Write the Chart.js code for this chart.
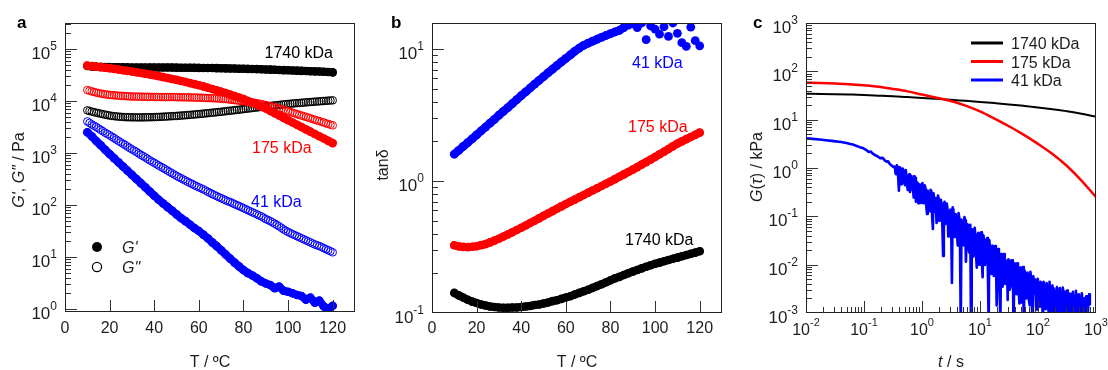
<!DOCTYPE html>
<html>
<head>
<meta charset="utf-8">
<script src="https://cdn.jsdelivr.net/npm/chart.js@4.4.0/dist/chart.umd.min.js"></script>
<style>
html,body{margin:0;padding:0;background:#fff;}
#wrap{position:relative;width:1108px;height:370px;overflow:hidden;}
.panel{position:absolute;top:0;height:370px;}
</style>
</head>
<body>
<div id="wrap">
  <div class="panel" style="left:0;width:369px"><canvas id="ca" width="369" height="370"></canvas></div>
  <div class="panel" style="left:369px;width:369px"><canvas id="cb" width="369" height="370"></canvas></div>
  <div class="panel" style="left:738px;width:370px"><canvas id="cc" width="370" height="370"></canvas></div>
</div>
<script>
// temperature sweeps (°C)
const temps=[10,12,14,16,18,20,22,24,26,28,30,32,34,36,38,40,42,44,46,48,50,52,54,56,58,60,62,64,66,68,70,72,74,76,78,80,82,84,86,88,90,92,94,96,98,100,102,104,106,108,110,112,114,116,118,120];
const temps1=[10,11,12,13,14,15,16,17,18,19,20,21,22,23,24,25,26,27,28,29,30,31,32,33,34,35,36,37,38,39,40,41,42,43,44,45,46,47,48,49,50,51,52,53,54,55,56,57,58,59,60,61,62,63,64,65,66,67,68,69,70,71,72,73,74,75,76,77,78,79,80,81,82,83,84,85,86,87,88,89,90,91,92,93,94,95,96,97,98,99,100,101,102,103,104,105,106,107,108,109,110,111,112,113,114,115,116,117,118,119,120];

// panel a: G' (filled, on temps) and G'' (open, on temps1), Pa
const gp1740=[47000,46200,45600,45200,44900,44700,44500,44400,44300,44200,44000,44000,44000,44000,44000,44000,44000,44000,44000,43900,43800,43700,43600,43500,43400,43300,43200,43100,43000,42800,42600,42400,42200,42000,41800,41600,41400,41200,41000,40700,40400,40100,39800,39500,39200,38900,38600,38300,38000,37700,37400,37100,36800,36400,36000,35500];
const gp175=[47900,46800,45700,44700,43700,42700,41500,40300,39100,37900,36800,35600,34500,33400,32400,31300,30100,28800,27700,26500,25500,24300,23200,22100,21100,20100,19100,18000,17000,16000,15100,14200,13300,12400,11600,10900,10000,9230,8490,7800,7160,6460,5820,5250,4730,4270,3850,3480,3150,2840,2570,2320,2100,1900,1710,1550];
const gp41=[2510,2090,1700,1410,1150,955,794,661,550,457,380,316,263,219,182,151,126,107,91,78,66,56,49,42,36,31.6,26.9,22.9,19.1,16.2,13.5,11.2,9.3,7.8,6.6,5.6,4.9,4.4,3.9,3.4,3.1,2.9,2.5,2.7,2.24,2.14,2.0,1.86,1.78,1.51,1.66,1.32,1.45,1.12,1.0,1.15];
const gpp1740=[6600,6420,6250,6100,5950,5820,5700,5570,5450,5350,5250,5170,5100,5050,5000,4960,4920,4890,4870,4860,4850,4845,4840,4840,4840,4845,4850,4860,4870,4885,4900,4920,4940,4965,4990,5015,5040,5070,5100,5130,5160,5200,5240,5280,5320,5365,5410,5455,5500,5550,5600,5655,5710,5770,5830,5890,5950,6010,6070,6135,6200,6275,6350,6425,6500,6575,6650,6725,6800,6890,6980,7065,7150,7235,7320,7410,7500,7590,7680,7765,7850,7940,8030,8125,8220,8310,8400,8500,8600,8690,8780,8865,8950,9025,9100,9175,9250,9325,9400,9475,9550,9625,9700,9775,9850,9925,10000,10075,10150,10225,10300];
const gpp175=[16200,15700,15300,14900,14500,14200,13900,13650,13400,13250,13100,12970,12850,12750,12650,12570,12500,12420,12350,12270,12200,12170,12150,12120,12100,12070,12050,12020,12000,11970,11950,11920,11900,11900,11900,11900,11900,11900,11900,11870,11850,11820,11800,11770,11750,11720,11700,11670,11650,11620,11600,11550,11500,11450,11400,11350,11300,11250,11200,11150,11100,11000,10900,10780,10650,10520,10400,10270,10150,10020,9900,9780,9650,9500,9350,9200,9050,8870,8700,8520,8350,8150,7950,7750,7550,7350,7150,6950,6750,6550,6350,6150,5950,5770,5600,5420,5250,5100,4950,4800,4650,4500,4350,4220,4100,3970,3850,3720,3600,3500,3400];
const gpp41=[4050,3790,3550,3350,3160,2970,2790,2620,2450,2310,2190,2060,1930,1810,1700,1600,1510,1420,1330,1250,1175,1110,1047,983,923,871,822,771,724,684,646,609,575,543,513,484,457,431,407,384,363,344,327,310,295,280,266,253,240,229,219,209,200,190,180,171,162,155,148,141,135,129,123,118,114,109,104,99.7,95.5,91.2,87.1,83.2,79.4,75.8,72.4,69.2,66.1,63.1,60.3,57,53.7,51.3,49.0,46.3,43.7,41.2,38.9,36.3,33.9,32,30.2,28.8,27.5,26.3,25.1,24,22.9,21.9,20.9,20,19.1,18.2,17.4,16.8,16.2,15.5,14.8,14.1,13.5,12.9,12.3];

// panel b: tan delta (on temps)
const tan1740=[0.142,0.136,0.131,0.126,0.122,0.119,0.116,0.114,0.112,0.111,0.110,0.1095,0.1095,0.110,0.110,0.111,0.112,0.113,0.115,0.116,0.118,0.120,0.123,0.125,0.128,0.131,0.134,0.138,0.142,0.146,0.150,0.155,0.160,0.165,0.171,0.177,0.183,0.188,0.194,0.200,0.206,0.212,0.218,0.224,0.230,0.236,0.241,0.247,0.252,0.258,0.263,0.269,0.275,0.281,0.287,0.294];
const tan175=[0.326,0.320,0.317,0.316,0.318,0.321,0.327,0.333,0.343,0.354,0.366,0.380,0.394,0.409,0.426,0.443,0.461,0.481,0.501,0.522,0.545,0.568,0.592,0.617,0.643,0.670,0.697,0.724,0.755,0.785,0.817,0.849,0.883,0.918,0.955,0.993,1.035,1.079,1.125,1.172,1.222,1.276,1.334,1.393,1.455,1.524,1.596,1.671,1.750,1.837,1.923,2.00,2.08,2.16,2.24,2.33];
const tan41=[1.60,1.71,1.83,1.96,2.09,2.24,2.40,2.57,2.75,2.94,3.16,3.38,3.61,3.87,4.14,4.44,4.74,5.08,5.43,5.81,6.19,6.61,7.05,7.52,8.00,8.51,9.04,9.65,10.2,10.7,11.1,11.5,11.9,12.3,12.7,13.1,13.5,13.9,14.6,15.2,15.6,14.6,15.8,11.8,15.0,14.2,13.0,14.8,12.5,15.8,13.2,11.2,10.5,14.7,11.6,10.6];

// panel c: relaxation modulus G(t), kPa
const tLine=[0.01,0.0178,0.0316,0.0562,0.1,0.178,0.316,0.562,1,1.78,3.16,5.62,10,17.8,31.6,56.2,100,178,316,562,1000];
const g1740=[34.3,34.1,33.7,33.1,32.4,31.4,30.4,29.3,28.2,27.0,25.8,24.5,23.3,22.0,20.7,19.3,17.9,16.4,14.9,13.2,11.5];
const g175=[58.2,57.5,56.2,54.3,51.3,47.9,43.2,38.5,33.1,28.5,24.3,19.5,14.8,10.5,7.3,4.9,3.16,1.95,1.10,0.55,0.25];
const tBlue=[0.01,0.013,0.017,0.022,0.03,0.04,0.05,0.058,0.065,0.075,0.085,0.098,0.11,0.12,0.13,0.14,0.155,0.17,0.19,0.21,0.23,0.245,0.26,0.28,0.3,0.32,
  0.34,0.36,0.38,0.40,0.43,0.45,0.48,0.51,0.54,0.57,0.60,0.64,0.68,0.72,0.76,0.81,0.86,0.91,0.96,1.02,
  1.08,1.15,1.22,1.29,1.37,1.45,1.54,1.63,1.73,1.83,1.94,2.06,2.18,2.31,2.45,2.6,2.75,2.92,3.1,3.28,
  3.48,3.69,3.91,4.14,4.39,4.66,4.94,5.23,5.55,5.88,6.23,6.6,7.0,7.4,7.9,8.3,8.8,9.4,9.9,10.5,
  11.1,11.8,12.5,13.3,14.1,14.9,15.8,16.8,17.8,18.8,20,21.2,22.4,23.8,25.2,26.7,28.3,30,31.8,33.7,
  35.7,37.9,40.1,42.5,45.1,47.8,50.7,53.7,56.9,60.3,63.9,67.8,71.8,76.1,80.7,85.6,90.7,96.1,102,108,
  114,121,129,136,145,153,163,172,183,194,205,218,231,244,259,275,291,309,327,347,
  367,389,413,438,464,492,521,553,586,621,658,698,740,784];
const g41=[4.1,4.0,3.9,3.75,3.6,3.45,3.3,3.15,3.05,2.85,2.7,2.55,2.35,2.15,2.2,2.0,1.85,1.75,1.6,1.62,1.42,1.35,1.38,1.2,1.12,1.05,
  1.07,0.74,1.05,0.34,0.95,0.63,0.87,0.44,0.66,0.35,0.74,0.37,0.59,0.245,0.63,0.35,0.186,0.46,0.263,0.49,
  0.204,0.38,0.112,0.295,0.174,0.33,0.055,0.204,0.24,0.089,0.234,0.087,0.162,0.0151,0.2,0.085,0.141,0.0417,0.138,0.0042,
  0.138,0.0457,0.095,0.0251,0.095,0.00045,0.066,0.0251,0.083,0.0316,0.066,0.0174,0.00036,0.0537,0.0178,0.0417,0.0087,0.0457,0.0195,0.0468,
  0.0055,0.0324,0.012,0.0355,0.00052,0.0195,0.00646,0.024,0.0079,0.0166,0.00437,0.0162,0.00048,0.0129,0.00427,0.0145,0.0049,0.00186,0.0112,0.00372,
  0.0089,0.00038,0.0091,0.00245,0.0066,0.00158,0.0076,0.00229,0.00044,0.0059,0.002,0.00537,0.00145,0.0055,0.00033,0.00251,0.0049,0.00117,0.00355,0.00135,
  0.00417,0.0004,0.00309,0.0012,0.00324,0.001,0.00174,0.00339,0.00032,0.00251,0.0011,0.00269,0.0003,0.00229,0.00112,0.00275,0.00085,0.00033,0.00204,0.001,
  0.00224,0.00078,0.00174,0.00038,0.0019,0.00093,0.00209,0.00046,0.00162,0.00089,0.00178,0.00044,0.00195,0.00151];
// further 41 kDa samples lying between the ones above
const tBlueMid=[0.35,0.37,0.39,0.415,0.44,0.465,0.495,0.525,0.555,0.585,
  0.62,0.66,0.70,0.74,0.785,0.835,0.885,0.935,0.99,1.05,
  1.115,1.185,1.255,1.33,1.41,1.495,1.585,1.68,1.78,1.885,
  2.0,2.12,2.245,2.38,2.525,2.675,2.835,3.01,3.19,3.38,
  3.585,3.8,4.025,4.265,4.525,4.8,5.085,5.39,5.715,6.055,
  6.415,6.8,7.2,7.65,8.1,8.55,9.1,9.65,10.2,10.8,
  11.45,12.15,12.9,13.7,14.5,15.35,16.3,17.3,18.3,19.4,
  20.6,21.8,23.1,24.5,25.95,27.5,29.15,30.9,32.75,34.7,
  36.8,39,41.3,43.8,46.45,49.25,52.2,55.3,58.6,62.1,
  65.85,69.8,73.95,78.4,83.15,88.15,93.4,99,105,111,
  117.5,125,132.5,140.5,149,158,167.5,177.5,188.5,199.5,
  211.5,224.5,237.5,251.5,267,283,300,318,337,357,
  378,401,425.5,451,478,506.5,537,569.5,603.5,639.5,
  678,719,762];
const g41Mid=[0.77,1.14,0.60,1.04,0.46,0.97,0.51,0.91,0.43,0.68,
  0.32,0.68,0.36,0.68,0.20,0.50,0.45,0.19,0.45,0.188,
  0.44,0.164,0.34,0.127,0.355,0.101,0.30,0.124,0.073,0.27,
  0.080,0.221,0.062,0.184,0.069,0.184,0.0385,0.127,0.0537,0.153,
  0.0376,0.111,0.0367,0.1175,0.0232,0.086,0.0324,0.0966,0.0115,0.0684,
  0.0202,0.0668,0.0442,0.0146,0.0582,0.016,0.0422,0.01,0.0427,0.01135,
  0.0403,0.0099,0.0292,0.0061,0.032,0.00944,0.0248,0.00582,0.0243,0.00143,
  0.0211,0.00556,0.0166,0.0035,0.0166,0.004,0.012,0.0129,0.00305,0.0123,
  0.0123,0.0105,0.00282,0.0107,0.00288,0.0087,0.00166,0.0089,0.0076,0.00204,
  0.0069,0.00186,0.0071,0.00151,0.00575,0.00495,0.00135,0.00513,0.00138,0.00442,
  0.00407,0.00442,0.00122,0.00417,0.00143,0.00442,0.00068,0.00372,0.0032,0.00099,
  0.00343,0.00094,0.00327,0.00114,0.00335,0.00077,0.00279,0.00292,0.0008,0.00251,
  0.00088,0.00275,0.00061,0.00288,0.00094,0.00245,0.00073,0.00257,0.00202,0.00071,
  0.00221,0.00069,0.00243];

const FF='"Liberation Sans", Arial, Helvetica, sans-serif';
const TXT='#1e1e1e';
const BLACK='#000000',RED='#ff0000',BLUE='#0000ff';

function pts(xs,ys){return xs.map((x,i)=>({x:x,y:ys[i]}));}
function isDecade(v){const l=Math.log10(v);return Math.abs(l-Math.round(l))<1e-6;}
function decadeTicks(s,lo,hi){
    const out=[];
    for(let e=lo;e<=hi;e++){
        for(let m=1;m<=9;m++){
            const v=m*Math.pow(10,e);
            if(v>=s.min*0.999&&v<=s.max*1.001) out.push({value:v});
        }
    }
    s.ticks=out;
}

// draws text made of [text, italic] pieces
function rich(ctx,segs,x,y,align,size,color,bold){
    const fonts=segs.map(s=>(s[1]?'italic ':'')+(bold?'bold ':'')+size+'px '+FF);
    let w=0;
    segs.forEach((s,i)=>{ctx.font=fonts[i];w+=ctx.measureText(s[0]).width;});
    let cx=align==='center'?x-w/2:(align==='right'?x-w:x);
    ctx.fillStyle=color;ctx.textAlign='left';ctx.textBaseline='alphabetic';
    segs.forEach((s,i)=>{ctx.font=fonts[i];ctx.fillText(s[0],cx,y);cx+=ctx.measureText(s[0]).width;});
}
function powLabel(ctx,e,x,y,align,size){
    ctx.font=size+'px '+FF;const bw=ctx.measureText('10').width;
    ctx.font=(size-5)+'px '+FF;const ew=ctx.measureText(String(e)).width;
    const x0=align==='right'?x-bw-ew:x-(bw+ew)/2;
    ctx.fillStyle=TXT;ctx.textAlign='left';ctx.textBaseline='alphabetic';
    ctx.font=size+'px '+FF;ctx.fillText('10',x0,y);
    ctx.font=(size-5)+'px '+FF;ctx.fillText(String(e),x0+bw,y-9);
}

function deco(cfg){
    return {
        id:'deco',
        afterDatasetsDraw(chart){
            const ctx=chart.ctx,a=chart.chartArea;
            const xs=chart.scales.x,ys=chart.scales.y;
            ctx.save();
            ctx.strokeStyle='#333';ctx.lineWidth=1;
            ctx.beginPath();
            ys.ticks.forEach(t=>{
                const p=Math.round(ys.getPixelForValue(t.value))+0.5;
                if(p<a.top||p>a.bottom) return;
                const len=(ys.type!=='logarithmic'||isDecade(t.value))?12:6;
                ctx.moveTo(a.left,p);ctx.lineTo(a.left+len,p);
            });
            xs.ticks.forEach(t=>{
                const p=Math.round(xs.getPixelForValue(t.value))+0.5;
                if(p<a.left||p>a.right) return;
                const len=(xs.type!=='logarithmic'||isDecade(t.value))?12:6;
                ctx.moveTo(p,a.bottom);ctx.lineTo(p,a.bottom-len);
            });
            ctx.stroke();
            ctx.strokeStyle='#222';
            ctx.strokeRect(a.left+0.5,a.top+0.5,a.right-a.left-1,a.bottom-a.top-1);

            if(ys.type==='logarithmic') ys.ticks.forEach(t=>{
                if(isDecade(t.value)) powLabel(ctx,Math.round(Math.log10(t.value)),a.left-8,ys.getPixelForValue(t.value)+10,'right',17);
            });
            if(xs.type==='logarithmic') xs.ticks.forEach(t=>{
                if(isDecade(t.value)) powLabel(ctx,Math.round(Math.log10(t.value)),xs.getPixelForValue(t.value),a.bottom+22,'center',16);
            });

            rich(ctx,[[cfg.letter,false]],cfg.letterX,28,'left',17,'#000',true);
            rich(ctx,cfg.xTitle,(a.left+a.right)/2,367,'center',16,TXT,false);
            ctx.save();
            ctx.translate(cfg.yTitleX,cfg.yTitleY);ctx.rotate(-Math.PI/2);
            rich(ctx,cfg.yTitle,0,0,'center',16,TXT,false);
            ctx.restore();
            (cfg.notes||[]).forEach(n=>rich(ctx,[[n.text,false]],n.x,n.y,n.align,16,n.color,false));
            if(cfg.markerKey){
                const k=cfg.markerKey;
                ctx.fillStyle='#000';ctx.beginPath();ctx.arc(k.x,k.y1,5,0,Math.PI*2);ctx.fill();
                ctx.strokeStyle='#000';ctx.lineWidth=1.2;ctx.beginPath();ctx.arc(k.x,k.y2,4.6,0,Math.PI*2);ctx.stroke();
                rich(ctx,[["G'",true]],k.tx,k.y1+6,'left',16,TXT,false);
                rich(ctx,[['G"',true]],k.tx,k.y2+6,'left',16,TXT,false);
            }
            if(cfg.lineKey){
                const k=cfg.lineKey;
                const ds=chart.data.datasets.filter(d=>d.keyRow!==undefined).sort((p,q)=>p.keyRow-q.keyRow);
                ds.forEach((d,i)=>{
                    const y=k.y+i*k.dy;
                    ctx.strokeStyle=d.borderColor;ctx.lineWidth=3;
                    ctx.beginPath();ctx.moveTo(k.x1,y);ctx.lineTo(k.x2,y);ctx.stroke();
                    rich(ctx,[[d.label,false]],k.tx,y+6,'left',16,TXT,false);
                });
            }
            ctx.restore();
        }
    };
}

// filled markers; a thick joining stroke fills the gaps of the dense measurement
function dot(ys,color,order,r,solidUntil){
    const ds={data:pts(temps,ys),backgroundColor:color,borderColor:color,borderWidth:2*r-0.6,
        pointRadius:r,pointBorderWidth:0,order:order,showLine:true,
        borderCapStyle:'round',borderJoinStyle:'round'};
    if(solidUntil) ds.segment={borderColor:c=>c.p0.parsed.x>=solidUntil?'rgba(0,0,0,0)':color};
    return ds;
}
function ring(ys,color,order){
    return {data:pts(temps1,ys),backgroundColor:'rgba(0,0,0,0)',borderColor:color,borderWidth:1,pointRadius:3.8,order:order};
}
const baseOpts={responsive:false,animation:false,events:[],plugins:{legend:{display:false},tooltip:{enabled:false}}};
const tempTicks=[0,20,40,60,80,100,120];
function linX(h,pad){
    return {type:'linear',min:0,max:130,
        afterFit:s=>{s.height=h;},
        afterBuildTicks:s=>{s.ticks=tempTicks.map(v=>({value:v}));},
        grid:{display:false,drawTicks:false},border:{display:false},
        ticks:{padding:pad,color:TXT,font:{family:FF,size:16},maxRotation:0,autoSkip:false}};
}
function logAxis(min,max,lo,hi,size,horiz){
    const ax={type:'logarithmic',min:min,max:max,
        afterBuildTicks:s=>decadeTicks(s,lo,hi),
        grid:{display:false,drawTicks:false},border:{display:false},ticks:{display:false}};
    if(horiz) ax.afterFit=s=>{s.height=size;}; else ax.afterFit=s=>{s.width=size;};
    return ax;
}

// panel a
new Chart(document.getElementById('ca'),{
    type:'scatter',
    data:{datasets:[
        ring(gpp1740,BLACK,6),ring(gpp175,RED,5),ring(gpp41,BLUE,4),
        dot(gp1740,BLACK,3,4.3),dot(gp41,BLUE,2,4.3),dot(gp175,RED,1,4.3)
    ]},
    options:Object.assign({},baseOpts,{
        layout:{padding:{left:0,right:14,top:23,bottom:0}},
        scales:{x:linX(58,7),y:logAxis(0.875,316000,-1,5,65,false)}
    }),
    plugins:[deco({
        letter:'a',letterX:17,
        xTitle:[['T / ºC',false]],
        yTitle:[["G'",true],[', ',false],['G"',true],[' / Pa',false]],yTitleX:23.5,yTitleY:170,
        notes:[
            {text:'1740 kDa',x:333,y:58,align:'right',color:BLACK},
            {text:'175 kDa',x:252,y:153,align:'left',color:RED},
            {text:'41 kDa',x:251,y:207,align:'left',color:BLUE}
        ],
        markerKey:{x:97,y1:247,y2:267,tx:122}
    })]
});

// panel b
new Chart(document.getElementById('cb'),{
    type:'scatter',
    data:{datasets:[
        dot(tan1740,BLACK,3,4.3),dot(tan175,RED,2,4.3),dot(tan41,BLUE,1,4.4,86)
    ]},
    options:Object.assign({},baseOpts,{
        layout:{padding:{left:0,right:16,top:23,bottom:0}},
        scales:{x:linX(57,6),y:logAxis(0.1,15.8,-1,1,63,false)}
    }),
    plugins:[deco({
        letter:'b',letterX:22,
        xTitle:[['T / ºC',false]],
        yTitle:[['tanδ',false]],yTitleX:19,yTitleY:165,
        notes:[
            {text:'41 kDa',x:263,y:68,align:'left',color:BLUE},
            {text:'175 kDa',x:259,y:132,align:'left',color:RED},
            {text:'1740 kDa',x:256,y:245,align:'left',color:BLACK}
        ]
    })]
});

// panel c
function curve(data,color,label,row,order,w,smooth){
    return {label:label,keyRow:row,data:data,showLine:true,borderColor:color,borderWidth:w,
        pointRadius:0,order:order,cubicInterpolationMode:smooth?'monotone':'default',borderJoinStyle:'round'};
}
const blueData=pts(tBlue,g41).concat(pts(tBlueMid,g41Mid)).sort((p,q)=>p.x-q.x);
new Chart(document.getElementById('cc'),{
    type:'scatter',
    data:{datasets:[
        curve(blueData,BLUE,'41 kDa',2,3,2.6,false),
        curve(pts(tLine,g1740),BLACK,'1740 kDa',0,2,2,true),
        curve(pts(tLine,g175),RED,'175 kDa',1,1,2.5,true)
    ]},
    options:Object.assign({},baseOpts,{
        layout:{padding:{left:0,right:12,top:23,bottom:0}},
        scales:{x:logAxis(0.01,1000,-2,3,57,true),y:logAxis(0.001,1000,-3,3,68,false)}
    }),
    plugins:[deco({
        letter:'c',letterX:15,
        xTitle:[['t',true],[' / s',false]],
        yTitle:[['G',true],['(',false],['τ',true],[') / kPa',false]],yTitleX:24,yTitleY:167,
        lineKey:{x1:233,x2:265,tx:273,y:43,dy:18.5}
    })]
});
</script>
</body>
</html>
